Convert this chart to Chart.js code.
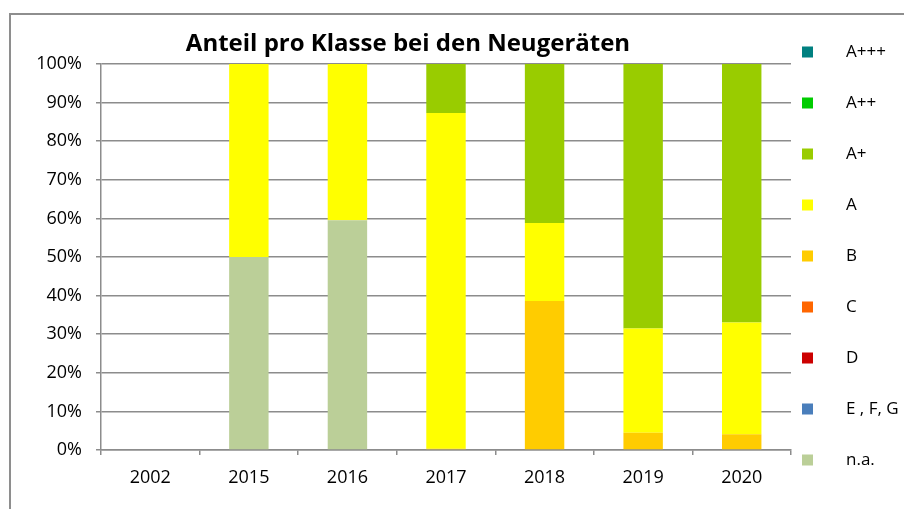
<!DOCTYPE html>
<html>
<head>
<meta charset="utf-8">
<script src="https://cdn.jsdelivr.net/npm/chart.js@4/dist/chart.umd.min.js"></script>
<style>
  body { margin: 0; background: #fff; }
  #wrap { position: relative; width: 904px; height: 509px; }
</style>
</head>
<body>
<div id="wrap"><canvas id="energyChart"></canvas></div>
<script>
// Jahre und Anteile (%) pro Effizienzklasse
var years = ['2002', '2015', '2016', '2017', '2018', '2019', '2020'];
var naValues = [0, 50, 59.5, 0, 0, 0, 0];
var efgValues = [0, 0, 0, 0, 0, 0, 0];
var dValues = [0, 0, 0, 0, 0, 0, 0];
var cValues = [0, 0, 0, 0, 0, 0, 0];
var bValues = [0, 0, 0, 0.3, 38.6, 4.5, 4.1];
var aValues = [0, 50, 40.5, 87.0, 20.2, 27.0, 28.9];
var aPlusValues = [0, 0, 0, 12.7, 41.2, 68.5, 67.0];
var aPlus2Values = [0, 0, 0, 0, 0, 0, 0];
var aPlus3Values = [0, 0, 0, 0, 0, 0, 0];

var chartTitle = 'Anteil pro Klasse bei den Neugeräten';
var font = '"Open Sans", sans-serif';

// Reihenfolge: erste Serie liegt unten im Stapel
var series = [
    { label: 'n.a.', data: naValues, color: '#BBCF98' },
    { label: 'E , F, G', data: efgValues, color: '#4A7EBB' },
    { label: 'D', data: dValues, color: '#CC0000' },
    { label: 'C', data: cValues, color: '#FF6600' },
    { label: 'B', data: bValues, color: '#FFCC00' },
    { label: 'A', data: aValues, color: '#FFFF00' },
    { label: 'A+', data: aPlusValues, color: '#99CC00' },
    { label: 'A++', data: aPlus2Values, color: '#00CC00' },
    { label: 'A+++', data: aPlus3Values, color: '#008080' }
];

// Rahmen, Titel und Legende selbst zeichnen (Excel-Layout)
var excelLook = {
    id: 'excelLook',
    beforeDraw: function (chart) {
        var ctx = chart.ctx;
        ctx.save();
        ctx.strokeStyle = '#8e8e8e';
        ctx.lineWidth = 2;
        ctx.strokeRect(10, 14, 1000, 1000);
        ctx.restore();
    },
    afterDraw: function (chart) {
        var ctx = chart.ctx;
        ctx.save();
        ctx.fillStyle = '#000';
        ctx.font = 'bold 24px ' + font;
        ctx.textAlign = 'center';
        ctx.textBaseline = 'middle';
        ctx.fillText(chartTitle, 408, 44);

        ctx.font = '17px ' + font;
        ctx.textAlign = 'left';
        var sets = chart.data.datasets.slice().reverse();
        sets.forEach(function (ds, i) {
            var y = 52 + i * 51;
            ctx.fillStyle = ds.backgroundColor;
            ctx.fillRect(802, y - 5.5, 11, 11);
            ctx.fillStyle = '#000';
            ctx.fillText(ds.label, 846, y);
        });
        ctx.restore();
    }
};

var ctx = document.getElementById('energyChart').getContext('2d');
var myChart = new Chart(ctx, {
    type: 'bar',
    data: {
        labels: years,
        datasets: series.map(function (s) {
            return {
                label: s.label,
                data: s.data,
                backgroundColor: s.color,
                borderWidth: 0,
                barPercentage: 0.4,
                categoryPercentage: 1
            };
        })
    },
    options: {
        responsive: true,
        maintainAspectRatio: false,
        animation: false,
        layout: { padding: { top: 64, right: 113, bottom: 0, left: 0 } },
        plugins: {
            legend: { display: false },
            title: { display: false },
            tooltip: { enabled: false }
        },
        scales: {
            x: {
                stacked: true,
                afterFit: function (scale) { scale.height = 59; },
                grid: { drawOnChartArea: false, drawTicks: true, tickLength: 5, color: '#8c8c8c', lineWidth: 1.5 },
                border: { display: true, color: '#8c8c8c', width: 1.5 },
                ticks: { color: '#000', padding: 12, font: { family: font, size: 18 } }
            },
            y: {
                stacked: true,
                min: 0,
                max: 100,
                afterFit: function (scale) { scale.width = 101; },
                grid: { drawTicks: true, tickLength: 5, color: '#8c8c8c', lineWidth: 1.5 },
                border: { display: true, color: '#8c8c8c', width: 1.5 },
                ticks: {
                    stepSize: 10,
                    color: '#000',
                    padding: 14,
                    font: { family: font, size: 18 },
                    callback: function (v) { return v + '%'; }
                }
            }
        }
    },
    plugins: [excelLook]
});
</script>
</body>
</html>
